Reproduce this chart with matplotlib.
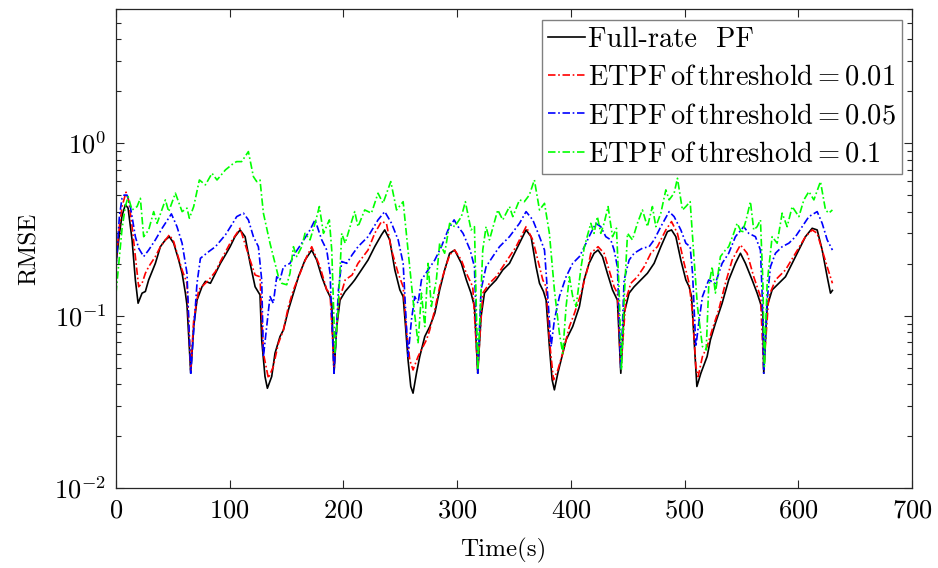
import math
import matplotlib
matplotlib.use("Agg")
import matplotlib.pyplot as plt
from matplotlib.ticker import FixedLocator, FuncFormatter, LogLocator, NullFormatter

plt.rcParams['mathtext.fontset'] = 'cm'
plt.rcParams['mathtext.default'] = 'rm'
plt.rcParams['axes.formatter.use_mathtext'] = True

# ---------------- data ----------------
t_full = [0, 3, 5.3, 8.2, 10.6, 14.1, 17.0, 19.4, 22.9, 25.8, 28.7, 34.6, 39.0, 43.4, 46.9, 50.7,
          55.1, 58.1, 61.0, 62.4, 65.7, 68.3, 71.2, 75.6, 78.6, 83.0, 87.4, 91.8, 96.2, 100.3, 104.6,
          109.1, 113.5, 117.9, 122.3, 126.6, 128.1, 131.0, 133.1, 136.9, 139.8, 144.2, 147.2, 151.6,
          156.0, 160.4, 166.2, 172.1, 176.5, 180.9, 185.3, 188.2, 189.7, 191.7, 194.1, 197.0, 201.5,
          207.6, 209.9, 215.8, 221.6, 227.5, 233.4, 236.3, 240.7, 245.2, 249.6, 252.5, 254.6, 256.8,
          259.2, 261.2, 264.2, 267.1, 271.5, 275.9, 280.3, 284.6, 289.0, 293.4, 297.8, 303.7, 308.1,
          312.2, 315.2, 318.1, 321.0, 324.0, 328.4, 334.2, 340.1, 346.0, 351.8, 356.3, 360.6, 365.0,
          369.4, 372.4, 375.9, 378.2, 381.1, 383.5, 385.5, 388.5, 391.4, 395.8, 401.6, 407.5, 411.6,
          416.0, 420.4, 423.9, 427.8, 432.1, 436.6, 440.9, 443.9, 446.8, 451.2, 455.6, 461.5, 467.3,
          473.2, 479.1, 484.9, 488.5, 492.3, 496.7, 501.1, 504.0, 506.1, 508.4, 510.8, 514.3, 519.8,
          522.7, 527.1, 533.0, 538.8, 544.7, 549.1, 553.5, 559.4, 563.8, 566.7, 568.8, 569.6, 572.6,
          577.0, 582.9, 588.7, 594.6, 600.5, 606.3, 612.2, 616.6, 621.0, 625.4, 628.3, 630.0]
rmse_full = [0.20, 0.30, 0.38, 0.44, 0.42, 0.275, 0.161, 0.118, 0.135, 0.138, 0.161, 0.201, 0.251,
             0.275, 0.287, 0.263, 0.210, 0.176, 0.135, 0.115, 0.0463, 0.0864, 0.123, 0.147, 0.158,
             0.154, 0.176, 0.201, 0.225, 0.251, 0.287, 0.314, 0.287, 0.201, 0.147, 0.132, 0.0723,
             0.0443, 0.0379, 0.0443, 0.0605, 0.0756, 0.0826, 0.108, 0.135, 0.168, 0.210, 0.240,
             0.210, 0.168, 0.141, 0.129, 0.118, 0.0463, 0.0864, 0.123, 0.138, 0.154, 0.161, 0.184,
             0.210, 0.251, 0.294, 0.314, 0.275, 0.184, 0.141, 0.129, 0.0864, 0.0553, 0.0388, 0.0355,
             0.0463, 0.0579, 0.0756, 0.0864, 0.103, 0.141, 0.184, 0.230, 0.240, 0.201, 0.161, 0.135,
             0.113, 0.0463, 0.0987, 0.135, 0.147, 0.161, 0.184, 0.201, 0.240, 0.275, 0.314, 0.287,
             0.192, 0.154, 0.138, 0.123, 0.0661, 0.0424, 0.0371, 0.0463, 0.0553, 0.0723, 0.0864,
             0.113, 0.161, 0.201, 0.230, 0.240, 0.220, 0.176, 0.141, 0.123, 0.0463, 0.103, 0.135,
             0.147, 0.161, 0.176, 0.201, 0.251, 0.307, 0.314, 0.287, 0.210, 0.161, 0.147, 0.129,
             0.0723, 0.0388, 0.0463, 0.0579, 0.0723, 0.0903, 0.118, 0.161, 0.201, 0.230, 0.201,
             0.161, 0.135, 0.118, 0.103, 0.0463, 0.113, 0.141, 0.154, 0.168, 0.201, 0.240, 0.287,
             0.321, 0.314, 0.240, 0.168, 0.135, 0.14]

t_001 = [0, 3, 5.3, 8.8, 11.0, 14.1, 17.0, 19.9, 22.9, 25.8, 28.7, 34.6, 39.0, 46.9, 50.7, 55.1,
         58.1, 62.4, 65.7, 68.3, 72.7, 81.5, 87.4, 91.8, 100.3, 109.1, 117.9, 122.3, 126.6, 129.6,
         134.0, 138.3, 142.8, 147.2, 151.6, 156.0, 161.8, 167.7, 172.1, 179.4, 185.3, 188.2, 191.7,
         195.6, 201.5, 207.6, 212.8, 221.6, 227.5, 233.4, 237.8, 242.3, 248.1, 252.5, 255.4, 258.3,
         261.2, 265.6, 270.0, 273.0, 275.9, 280.3, 284.6, 289.0, 293.4, 297.8, 303.7, 308.1, 313.7,
         318.1, 322.5, 328.4, 334.2, 340.1, 351.8, 360.6, 366.5, 370.9, 375.3, 378.2, 381.1, 384.7,
         388.5, 392.8, 398.7, 403.1, 409.0, 415.1, 417.5, 423.9, 429.2, 433.6, 438.0, 440.9, 443.9,
         448.3, 452.7, 458.5, 464.4, 470.3, 476.1, 483.5, 488.5, 493.7, 499.6, 504.0, 507.0, 509.9,
         511.9, 515.7, 519.8, 524.2, 530.0, 535.9, 541.8, 549.1, 555.0, 560.8, 566.7, 569.6, 574.0,
         579.9, 588.7, 597.5, 606.3, 612.2, 616.6, 621.0, 625.4, 630.0]
rmse_001 = [0.21, 0.33, 0.43, 0.52, 0.47, 0.33, 0.22, 0.147, 0.154, 0.176, 0.192, 0.220, 0.251,
            0.294, 0.269, 0.215, 0.184, 0.154, 0.0484, 0.0944, 0.141, 0.161, 0.180, 0.206, 0.263,
            0.321, 0.210, 0.172, 0.168, 0.0605, 0.0433, 0.0506, 0.0691, 0.0826, 0.113, 0.141, 0.176,
            0.220, 0.251, 0.192, 0.141, 0.135, 0.0506, 0.118, 0.161, 0.172, 0.201, 0.240, 0.300,
            0.351, 0.343, 0.240, 0.176, 0.147, 0.0826, 0.0553, 0.0484, 0.0579, 0.0661, 0.0723,
            0.0826, 0.108, 0.147, 0.184, 0.225, 0.240, 0.210, 0.176, 0.147, 0.0484, 0.135, 0.154,
            0.168, 0.192, 0.251, 0.328, 0.275, 0.210, 0.161, 0.147, 0.0723, 0.0424, 0.0484, 0.0605,
            0.0864, 0.103, 0.135, 0.192, 0.230, 0.251, 0.230, 0.184, 0.147, 0.135, 0.0484, 0.123,
            0.154, 0.168, 0.192, 0.230, 0.251, 0.314, 0.351, 0.300, 0.201, 0.154, 0.103, 0.0506,
            0.0443, 0.0579, 0.0661, 0.0826, 0.108, 0.154, 0.210, 0.257, 0.230, 0.168, 0.129, 0.0484,
            0.129, 0.161, 0.184, 0.230, 0.287, 0.314, 0.300, 0.240, 0.192, 0.154]

t_005 = [0, 3, 5.3, 7.0, 9.7, 12.0, 14.1, 17.0, 19.9, 24.3, 28.7, 34.6, 40.5, 48.7, 53.6, 58.1,
         62.4, 65.7, 71.2, 74.2, 81.5, 87.4, 96.2, 103.5, 106.1, 112.0, 116.4, 120.8, 125.2, 128.1,
         129.6, 132.5, 135.4, 138.3, 141.3, 144.2, 147.2, 153.0, 157.4, 163.3, 170.6, 175.0, 180.9,
         185.3, 188.2, 191.7, 195.6, 198.5, 202.9, 207.6, 212.8, 221.6, 230.4, 236.3, 242.3, 248.1,
         252.5, 255.4, 256.8, 259.8, 262.7, 265.6, 268.6, 274.4, 280.3, 286.1, 292.0, 297.3, 300.8,
         305.2, 311.4, 315.2, 318.1, 321.0, 325.4, 331.3, 337.2, 346.0, 354.8, 360.6, 366.5, 372.4,
         376.8, 379.7, 382.6, 385.5, 389.9, 395.8, 401.6, 407.5, 411.9, 416.0, 421.9, 426.3, 430.7,
         435.1, 438.0, 440.9, 443.9, 446.8, 451.2, 455.6, 462.9, 468.8, 473.2, 479.1, 486.4, 490.8,
         496.7, 501.1, 504.9, 507.0, 509.9, 512.8, 515.7, 519.0, 521.2, 527.1, 533.0, 538.8, 544.7,
         552.0, 556.4, 562.3, 566.7, 568.2, 569.6, 572.6, 575.5, 579.9, 585.8, 591.7, 597.5, 603.4,
         609.3, 616.6, 621.0, 625.4, 630.0]
rmse_005 = [0.19, 0.38, 0.48, 0.50, 0.50, 0.45, 0.375, 0.287, 0.246, 0.220, 0.240, 0.275, 0.321,
            0.389, 0.328, 0.263, 0.176, 0.0463, 0.154, 0.215, 0.235, 0.251, 0.294, 0.351, 0.375,
            0.393, 0.359, 0.287, 0.251, 0.161, 0.0579, 0.0864, 0.129, 0.118, 0.168, 0.161, 0.192,
            0.201, 0.230, 0.263, 0.314, 0.359, 0.275, 0.240, 0.176, 0.0463, 0.141, 0.206, 0.201,
            0.225, 0.251, 0.287, 0.359, 0.401, 0.343, 0.275, 0.201, 0.0864, 0.0579, 0.0944, 0.129,
            0.118, 0.161, 0.184, 0.210, 0.251, 0.314, 0.359, 0.328, 0.300, 0.240, 0.192, 0.0463,
            0.141, 0.192, 0.220, 0.251, 0.287, 0.343, 0.401, 0.359, 0.287, 0.240, 0.129, 0.0661,
            0.0944, 0.129, 0.168, 0.201, 0.220, 0.251, 0.287, 0.343, 0.328, 0.287, 0.275, 0.240,
            0.192, 0.0484, 0.161, 0.210, 0.230, 0.246, 0.251, 0.275, 0.328, 0.401, 0.375, 0.314,
            0.263, 0.251, 0.176, 0.0661, 0.0944, 0.129, 0.147, 0.161, 0.154, 0.201, 0.230, 0.287,
            0.328, 0.300, 0.287, 0.240, 0.135, 0.0463, 0.123, 0.192, 0.230, 0.251, 0.263, 0.287,
            0.328, 0.375, 0.401, 0.343, 0.275, 0.240]

t_01 = [0, 3, 5.3, 8.2, 10.6, 14.1, 18.5, 21.4, 24.3, 28.7, 33.1, 36.1, 43.4, 46.3, 52.2, 58.1,
        62.4, 64.5, 68.3, 73.3, 78.6, 84.4, 88.8, 96.2, 103.5, 106.1, 110.5, 116.4, 120.8, 123.7,
        126.6, 129.6, 135.4, 139.8, 142.8, 145.7, 150.1, 153.0, 156.0, 158.9, 163.3, 166.2, 170.6,
        175.0, 178.8, 182.4, 187.6, 189.7, 192.6, 195.6, 198.5, 201.5, 207.6, 209.9, 212.8, 218.7,
        224.6, 230.4, 234.8, 241.6, 246.7, 252.5, 256.8, 261.2, 265.6, 268.6, 271.5, 274.4, 277.3,
        281.7, 284.6, 289.0, 293.4, 297.8, 303.7, 307.2, 312.2, 315.2, 318.1, 322.5, 325.4, 328.4,
        335.7, 340.1, 346.0, 348.9, 354.8, 359.1, 363.5, 367.9, 372.4, 376.8, 381.1, 385.5, 389.9,
        392.8, 395.8, 398.7, 401.6, 404.6, 409.0, 411.9, 417.5, 420.4, 423.3, 426.3, 429.2, 432.7,
        436.6, 440.1, 442.4, 444.5, 446.8, 449.8, 454.1, 458.5, 462.9, 467.3, 471.7, 474.7, 479.1,
        483.5, 486.4, 490.8, 493.7, 498.1, 501.1, 504.9, 508.4, 511.3, 515.7, 519.0, 521.2, 524.2,
        527.1, 531.5, 535.9, 538.8, 543.2, 546.2, 550.6, 554.1, 557.9, 560.8, 563.8, 566.7, 568.8,
        570.2, 572.6, 577.0, 581.4, 585.8, 590.2, 594.6, 600.5, 604.9, 609.3, 613.7, 619.5, 623.9,
        626.8, 630.0]
rmse_01 = [0.135, 0.22, 0.32, 0.429, 0.490, 0.410, 0.429, 0.479, 0.287, 0.314, 0.401, 0.343, 0.469,
           0.401, 0.513, 0.401, 0.420, 0.367, 0.429, 0.612, 0.573, 0.669, 0.612, 0.70, 0.766, 0.782,
           0.782, 0.894, 0.640, 0.599, 0.612, 0.393, 0.263, 0.201, 0.168, 0.154, 0.151, 0.176,
           0.251, 0.220, 0.251, 0.300, 0.275, 0.343, 0.429, 0.300, 0.359, 0.240, 0.0605, 0.118,
           0.300, 0.263, 0.359, 0.401, 0.328, 0.410, 0.393, 0.513, 0.448, 0.599, 0.410, 0.458,
           0.240, 0.123, 0.0691, 0.135, 0.0864, 0.201, 0.113, 0.161, 0.263, 0.230, 0.343, 0.328,
           0.375, 0.458, 0.314, 0.328, 0.0484, 0.240, 0.328, 0.275, 0.410, 0.359, 0.429, 0.375,
           0.469, 0.458, 0.501, 0.612, 0.410, 0.448, 0.300, 0.141, 0.0790, 0.0605, 0.113, 0.168,
           0.129, 0.113, 0.192, 0.251, 0.343, 0.300, 0.375, 0.300, 0.343, 0.429, 0.287, 0.321,
           0.141, 0.0484, 0.123, 0.300, 0.275, 0.343, 0.410, 0.328, 0.429, 0.328, 0.393, 0.536,
           0.469, 0.513, 0.626, 0.410, 0.429, 0.458, 0.210, 0.113, 0.0661, 0.0632, 0.147, 0.192,
           0.135, 0.220, 0.240, 0.251, 0.300, 0.343, 0.300, 0.359, 0.458, 0.314, 0.328, 0.359,
           0.161, 0.0506, 0.154, 0.287, 0.263, 0.393, 0.328, 0.429, 0.375, 0.469, 0.524, 0.469,
           0.599, 0.410, 0.393, 0.410]

labels = ["Full-rate  PF",
          r"$\mathrm{ETPF\,of\,threshold}=0.01$",
          r"$\mathrm{ETPF\,of\,threshold}=0.05$",
          r"$\mathrm{ETPF\,of\,threshold}=0.1$"]
x_ticks = [0, 100, 200, 300, 400, 500, 600, 700]
y_ticks = [1e-2, 1e-1, 1e0]

# ---------------- figure ----------------
fig = plt.figure(figsize=(9.38, 5.68), dpi=100)
ax = fig.add_axes([0.1237, 0.1408, 0.8486, 0.8433])

dd = (4.5, 1.6, 1.0, 1.6)
ax.plot(t_full, rmse_full, color='black', lw=1.2, ls='-', label=labels[0])
ax.plot(t_001, rmse_001, color=(1, 0, 0), lw=1.2, ls=(0, dd), label=labels[1])
ax.plot(t_005, rmse_005, color=(0, 0, 1), lw=1.2, ls=(0, dd), label=labels[2])
ax.plot(t_01, rmse_01, color=(0, 1, 0), lw=1.2, ls=(0, dd), label=labels[3])

ax.set_yscale('log')
ax.set_xlim(0, 700)
ax.set_ylim(1e-2, 6)
ax.xaxis.set_major_locator(FixedLocator(x_ticks))
ax.xaxis.set_major_formatter(FuncFormatter(lambda v, p: r"$%d$" % int(round(v))))
ax.yaxis.set_major_locator(FixedLocator(y_ticks))
ax.yaxis.set_major_formatter(FuncFormatter(lambda v, p: r"$10^{%d}$" % int(round(math.log10(v)))))
ax.yaxis.set_minor_locator(LogLocator(base=10, subs=range(2, 10), numticks=20))
ax.yaxis.set_minor_formatter(NullFormatter())

ax.tick_params(which='both', direction='in', top=True, right=True, colors='#262626',
               labelcolor='black', labelsize=19, width=0.8)
ax.tick_params(which='major', length=6, pad=7)
ax.tick_params(which='minor', length=3.5)
for s in ax.spines.values():
    s.set_linewidth(0.9)
    s.set_color('#262626')

ax.set_xlabel("Time(s)", fontfamily='cmr10', fontsize=18, labelpad=9)
ax.xaxis.set_label_coords(0.487, -0.105)
ax.set_ylabel("RMSE", fontfamily='cmr10', fontsize=18, labelpad=10)

leg = ax.legend(loc='upper right', bbox_to_anchor=(0.9875, 0.977), borderaxespad=0,
                prop={'family': 'cmr10', 'size': 20.5}, handlelength=1.3, handletextpad=0.1,
                labelspacing=0.42, borderpad=0.22, fancybox=False, framealpha=1)
leg.get_frame().set_edgecolor('#808080')
leg.get_frame().set_linewidth(1.0)

fig.savefig("out.png", dpi=100, facecolor='white')
